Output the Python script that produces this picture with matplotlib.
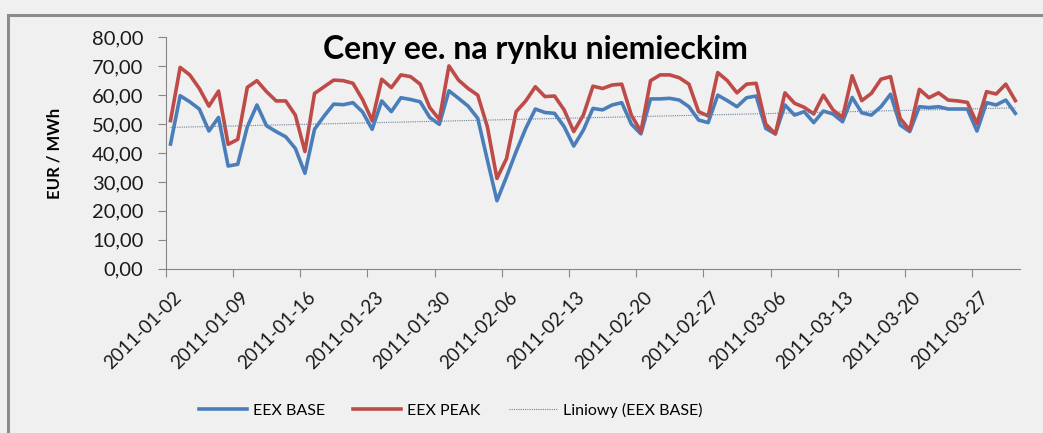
import numpy as np
import pandas as pd
import matplotlib
matplotlib.use("Agg")
import matplotlib.pyplot as plt
import matplotlib.transforms as mtransforms
from matplotlib.patches import Rectangle

# daily prices, 2011-01-02 .. 2011-03-31
dates = pd.date_range("2011-01-02", "2011-03-31", freq="D")
eex_base = [43.1, 59.8, 57.7, 55.2, 47.6, 52.3, 35.5, 36.1, 49.1, 56.6,
            49.4, 47.4, 45.6, 41.6, 33.0, 48.2, 52.8, 56.9, 56.7, 57.4,
            54.2, 48.2, 58.0, 54.3, 59.1, 58.5, 57.7, 52.3, 49.9, 61.5,
            58.9, 56.2, 52.0, 37.6, 23.5, 31.8, 40.5, 48.5, 55.2, 54.0,
            53.7, 49.1, 42.4, 47.9, 55.4, 54.9, 56.6, 57.4, 50.0, 46.6,
            58.7, 58.7, 58.9, 58.3, 56.0, 51.4, 50.5, 60.0, 58.1, 56.0,
            59.1, 59.7, 48.5, 46.6, 56.6, 53.1, 54.3, 50.5, 54.5, 53.5,
            50.8, 59.2, 53.9, 53.1, 56.0, 60.3, 49.7, 47.4, 56.0, 55.7,
            56.0, 55.2, 55.2, 55.2, 47.6, 57.4, 56.6, 58.3, 53.7]
eex_peak = [51.2, 69.6, 67.0, 62.3, 56.2, 61.4, 43.0, 44.7, 62.7, 65.0,
            61.2, 58.0, 58.0, 53.1, 40.5, 60.6, 62.9, 65.2, 65.0, 64.1,
            58.5, 51.2, 65.5, 62.6, 67.0, 66.4, 63.8, 55.7, 51.6, 70.1,
            65.2, 62.3, 60.0, 49.1, 31.2, 38.1, 54.3, 58.0, 62.9, 59.5,
            59.7, 54.9, 47.4, 53.1, 63.1, 62.3, 63.5, 63.8, 53.1, 47.4,
            65.0, 67.0, 67.0, 66.0, 63.8, 54.3, 52.8, 67.8, 65.0, 60.8,
            63.8, 64.1, 50.0, 46.6, 60.8, 57.2, 55.8, 53.5, 60.0, 54.9,
            52.3, 66.7, 58.1, 60.6, 65.5, 66.4, 52.0, 47.9, 62.0, 59.1,
            60.8, 58.3, 58.0, 57.5, 50.2, 61.2, 60.4, 63.8, 58.1]
y_ticks = [0, 10, 20, 30, 40, 50, 60, 70, 80]
x_ticks = pd.date_range("2011-01-02", "2011-03-27", freq="7D")

bg = "#f0f0f0"
plt.rcParams["font.family"] = ["Lato", "DejaVu Sans"]

fig = plt.figure(figsize=(10.43, 4.33), dpi=100, facecolor=bg)
ax = fig.add_axes([0.1589, 0.3794, 0.8192, 0.5345], facecolor=bg)

# outer chart frame, only its left and top edge show in the crop
fig.patches.append(Rectangle((8 / 1043, -0.1), 1.2, 1 - 15 / 433 + 0.1,
                             transform=fig.transFigure, fill=False,
                             edgecolor="#8c8c8c", lw=2.2))

# excel puts each day's point in the middle of its slot
x = dates + pd.Timedelta(hours=12)
idx = np.arange(len(dates))
k, b = np.polyfit(idx, eex_base, 1)
trend = k * idx + b

ax.plot(x, eex_base, color="#4a7ebb", lw=2.6, label="EEX BASE", zorder=3)
ax.plot(x, eex_peak, color="#be4b48", lw=2.6, label="EEX PEAK", zorder=3)
ax.plot(x, trend, color="#6f7f99", lw=0.8, ls=(0, (1, 1)),
        label="Liniowy (EEX BASE)", zorder=4)

ax.set_xlim(dates[0], dates[-1] + pd.Timedelta(days=1))
ax.set_ylim(0, 80)
ax.set_yticks(y_ticks)
ax.set_yticklabels([f"{v:.2f}".replace(".", ",") for v in y_ticks])
ax.set_xticks(x_ticks)
ax.set_xticklabels([t.strftime("%Y-%m-%d") for t in x_ticks], rotation=45,
                   ha="right", va="top", rotation_mode="anchor")

for s in ["top", "right"]:
    ax.spines[s].set_visible(False)
for s in ["left", "bottom"]:
    ax.spines[s].set_color("#868686")
ax.tick_params(axis="both", colors="#868686", length=6, labelcolor="#1a1a1a")
ax.tick_params(axis="y", pad=10, labelsize=14.5)
ax.tick_params(axis="x", pad=4, labelsize=13.5)

# nudge date labels a bit right/down like the excel ones
shift = mtransforms.ScaledTranslation(0.07, -0.06, fig.dpi_scale_trans)
for lbl in ax.get_xticklabels():
    lbl.set_transform(lbl.get_transform() + shift)

fig.text(55 / 1043, 1 - 153 / 433, "EUR / MWh", rotation=90, ha="center",
         va="center", fontsize=12, fontweight="bold")
fig.text(535 / 1043, 1 - 49 / 433, "Ceny ee. na rynku niemieckim", ha="center",
         va="center", fontsize=23, fontweight="bold")

fig.legend(loc="center", bbox_to_anchor=(0.432, 1 - 410 / 433), ncol=3,
           frameon=False, fontsize=11.5, handlelength=3.0, columnspacing=1.75,
           handletextpad=0.4)

fig.savefig("out.png", dpi=100, facecolor=bg)
